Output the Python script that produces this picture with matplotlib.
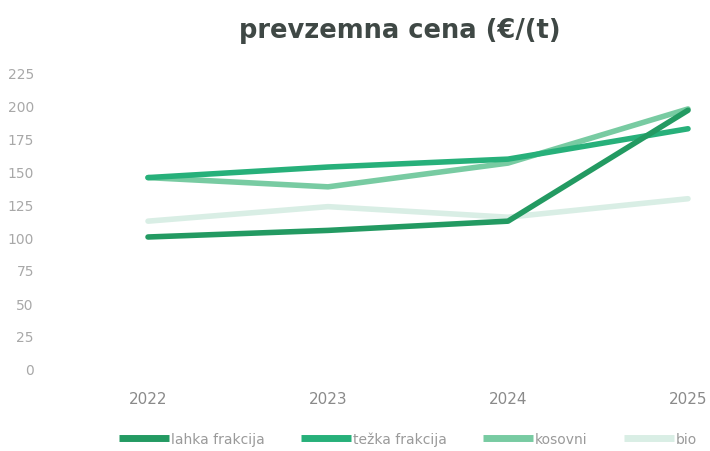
import matplotlib
matplotlib.use("Agg")
import matplotlib.pyplot as plt

years = [2022, 2023, 2024, 2025]
lahka = [100, 105, 112, 196]
tezka = [145, 153, 159, 182]
kosovni = [145, 138, 156, 197]
bio = [112, 123, 115, 129]
labels = ["lahka frakcija", "težka frakcija", "kosovni", "bio"]
colors = ["#239a62", "#27b07a", "#78cba2", "#d9eee5"]
yticks = [0, 25, 50, 75, 100, 125, 150, 175, 200, 225]

fig = plt.figure(figsize=(7.1, 4.52), dpi=100)
W, H = 710, 452
ax = fig.add_axes([45 / W, (H - 370) / H, (705 - 45) / W, (370 - 73) / H])

series = [lahka, tezka, kosovni, bio]
handles = []
for i, (s, c, lab) in enumerate(zip(series, colors, labels)):
    (ln,) = ax.plot(years, s, color=c, lw=4, solid_capstyle="round",
                    zorder=10 - i, label=lab)
    handles.append(ln)

ax.set_ylim(0, 225)
ax.set_xlim(2022 - (148 - 45) / 180, 2022 + (705 - 148) / 180)
ax.set_yticks(yticks)
ax.set_xticks(years)
ax.set_xticklabels([str(y) for y in years])
for sp in ax.spines.values():
    sp.set_visible(False)
ax.tick_params(axis="y", length=0, pad=8, labelsize=10, labelcolor="#a8a8a8")
ax.tick_params(axis="x", length=0, pad=16, labelsize=11, labelcolor="#8a8a8a")

fig.text(400 / W, 1 - 31 / H, "prevzemna cena (€/(t)", ha="center", va="center",
         fontsize=18.5, fontweight="semibold", color="#3f4845")

leg = fig.legend(handles=handles, labels=labels, loc="center",
                 bbox_to_anchor=(408 / W, 1 - 440 / H), ncol=4, frameon=False,
                 fontsize=10, handlelength=3.6, handletextpad=0.15,
                 columnspacing=2.6, labelcolor="#9a9a9a")
for lh in leg.get_lines():
    lh.set_linewidth(5)
    lh.set_solid_capstyle("butt")

fig.savefig("out.png", dpi=100, facecolor="white")
